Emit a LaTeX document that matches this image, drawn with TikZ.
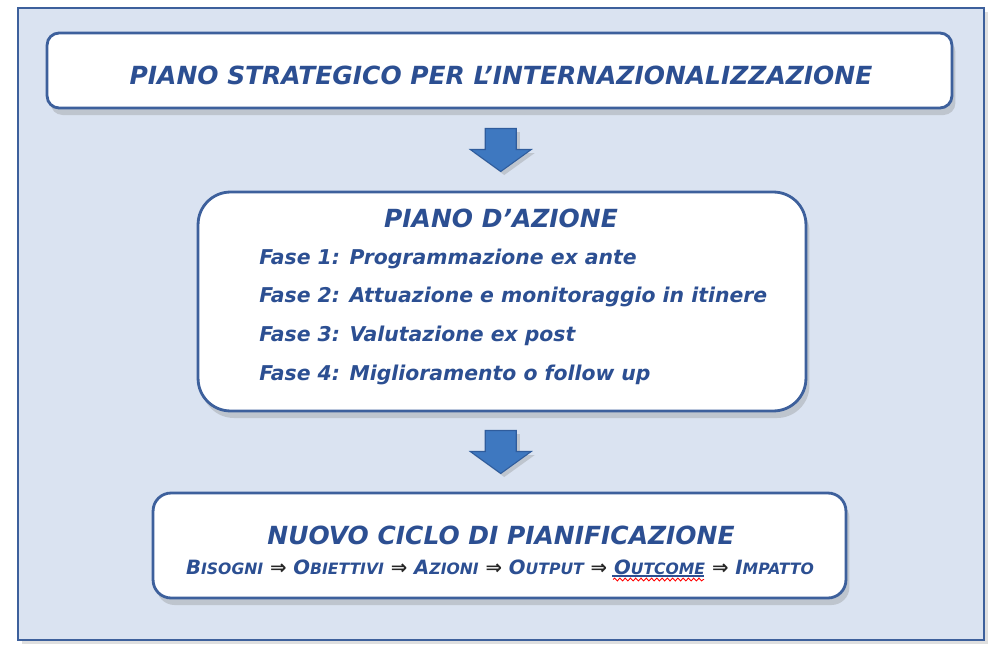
\documentclass[tikz,border=0pt]{standalone}
\usepackage{fontspec}
\setmainfont{DejaVu Sans}
\usetikzlibrary{shadows}
\usetikzlibrary{decorations.pathmorphing}
\definecolor{sfondoblu}{RGB}{218,227,241}
\definecolor{bordoblu}{RGB}{61,96,156}
\definecolor{testoblu}{RGB}{44,79,146}
\definecolor{frecciablu}{RGB}{62,120,192}
\definecolor{frecciabordo}{RGB}{47,92,156}
\tikzset{
	cornice/.style = {draw=bordoblu, line width=1.4pt, fill=sfondoblu,
		drop shadow={shadow xshift=2pt, shadow yshift=-2pt, opacity=0.25}},% cornice esterna
	riquadro/.style = {draw=bordoblu, line width=1.6pt, fill=white,
		inner sep=0pt, drop shadow={shadow xshift=2pt, shadow yshift=-4pt, opacity=0.3}},% riquadro bianco
	titolo/.style = {font=\bfseries\itshape\fontsize{14.2}{17}\selectfont,
		text=testoblu, inner sep=0pt},% titolo del riquadro
	fase/.style = {font=\bfseries\itshape\fontsize{11.6}{14}\selectfont,
		text=testoblu, inner sep=0pt, anchor=west},% riga delle fasi
	catena/.style = {font=\bfseries\itshape\fontsize{11.2}{13}\selectfont,
		text=testoblu, inner sep=0pt},% riga in maiuscoletto
	freccia/.style = {fill=frecciablu, draw=frecciabordo, line width=0.6pt,
		drop shadow={shadow xshift=2pt, shadow yshift=-2pt, opacity=0.3}}% freccia in giu
}
\newcommand\picc[2]{#1{\fontsize{8.9}{10}\selectfont #2}}% maiuscoletto finto
\newcommand\imp{\textcolor{black!85}{⇒}}% freccia doppia
\newcommand\frecciagiu[1]{%
	\draw[freccia, shift={(#1)}] (-15.5,-21.5) -- (15.5,-21.5) -- (15.5,-0.5)
		-- (30.5,-0.5) -- (0,21.5) -- (-30.5,-0.5) -- (-15.5,-0.5) -- cycle;}

\begin{document}
\begin{tikzpicture}[x=0.02cm, y=-0.02cm]
	\useasboundingbox (0,0) rectangle (1000,655);
	\draw[cornice] (18,8) rectangle (984,640);

	\node [riquadro, rounded corners=0.24cm, minimum width=18.1cm,
		minimum height=1.5cm] (piano) at (499.5,70.5) {};
	\node [titolo] (pianotit) at (501,75) {PIANO STRATEGICO PER L’INTERNAZIONALIZZAZIONE};

	\node [riquadro, rounded corners=0.65cm, minimum width=12.16cm,
		minimum height=4.38cm] (azione) at (502,301.5) {};
	\node [titolo] (azionetit) at (501,218) {PIANO D’AZIONE};
	\node [fase] (fase1) at (259,259) {Fase 1: Programmazione ex ante};
	\node [fase] (fase2) at (259,297) {Fase 2: Attuazione e monitoraggio in itinere};
	\node [fase] (fase3) at (259,336) {Fase 3: Valutazione ex post};
	\node [fase] (fase4) at (259,375) {Fase 4: Miglioramento o follow up};

	\node [riquadro, rounded corners=0.36cm, minimum width=13.86cm,
		minimum height=2.1cm] (ciclo) at (499.5,545.5) {};
	\node [titolo] (ciclotit) at (501,535) {NUOVO CICLO DI PIANIFICAZIONE};
	\node [catena] (ciclocat) at (500,567) {\picc{B}{ISOGNI} \imp{} \picc{O}{BIETTIVI}
		\imp{} \picc{A}{ZIONI} \imp{} \picc{O}{UTPUT} \imp{} \picc{O}{UTCOME} \imp{} \picc{I}{MPATTO}};
	\draw [testoblu, line width=0.6pt] (612,576) -- (704,576);% sottolineato
	\draw [red, line width=0.5pt, decorate, decoration={snake, amplitude=0.8,
		segment length=3}] (613,579.5) -- (704,579.5);

	\path (piano.south) -- (azione.north) coordinate[pos=0.5] (m1);
	\path (azione.south) -- (ciclo.north) coordinate[pos=0.5] (m2);
	\frecciagiu{m1}
	\frecciagiu{m2}
\end{tikzpicture}
\end{document}
